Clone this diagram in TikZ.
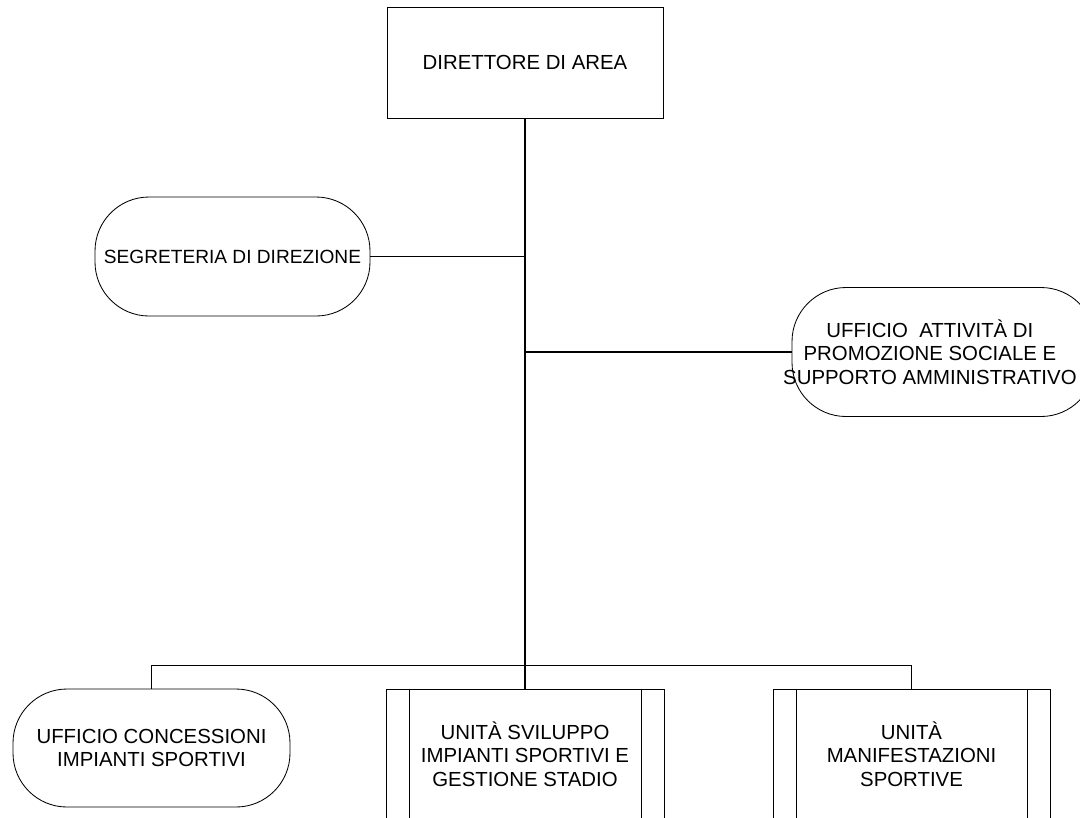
\documentclass[tikz,border=0pt]{standalone}
\usepackage{fontspec}
\setmainfont{Liberation Sans}
\begin{document}
\begin{tikzpicture}[node distance=4.85cm,thick]
        \tikzstyle{box} = [rectangle, draw, line width=0.6pt, align=center, inner sep=0pt, font=\fontsize{14.5pt}{16.7pt}\selectfont]
        \tikzstyle{office} = [box, rounded corners=1.35cm]
        \tikzstyle{unit} = [box, path picture={
            \draw[line width=0.6pt] ([xshift=0.575cm]path picture bounding box.north west) -- ([xshift=0.575cm]path picture bounding box.south west);
            \draw[line width=0.6pt] ([xshift=-0.575cm]path picture bounding box.north east) -- ([xshift=-0.575cm]path picture bounding box.south east);}]
        \tikzstyle{link} = [line width=1.1pt]

        \useasboundingbox (0,0) rectangle (27,-20.425);

        % Nodes
        \node[box, minimum width=6.9cm, minimum height=2.775cm] (direttore) at (13.125,-1.5625) {DIRETTORE DI AREA};
        \node[office, below of=direttore, xshift=-7.3125cm, minimum width=6.875cm, minimum height=2.975cm, font=\fontsize{13.6pt}{16.7pt}\selectfont] (segreteria) {SEGRETERIA DI DIREZIONE};
        \node[office, below of=direttore, xshift=10.4625cm, yshift=-2.3875cm, minimum width=7.575cm, minimum height=3.225cm,
              label={[xshift=-0.34cm, align=center, font=\fontsize{14.5pt}{16.7pt}\selectfont]center:UFFICIO\ \ ATTIVITÀ DI\\PROMOZIONE SOCIALE E\\SUPPORTO AMMINISTRATIVO}] (promozione) {};

        % Bottom row
        \node[office, below of=direttore, xshift=-9.3375cm, yshift=-12.2875cm, minimum width=6.925cm, minimum height=2.95cm] (concessioni) {UFFICIO CONCESSIONI\\IMPIANTI SPORTIVI};
        \node[unit, below of=direttore, yshift=-12.4375cm, minimum width=6.95cm, minimum height=3.25cm] (sviluppo) {UNITÀ SVILUPPO\\IMPIANTI SPORTIVI E\\GESTIONE STADIO};
        \node[unit, below of=direttore, xshift=9.6625cm, yshift=-12.4375cm, minimum width=6.925cm, minimum height=3.25cm] (manifestazioni) {UNITÀ\\MANIFESTAZIONI\\SPORTIVE};

        % Trunk
        \draw[link] (direttore.south) -- ++(0,-13.675) coordinate(bar);

        % Side offices
        \draw[link] (segreteria.east) -- (segreteria.east -| bar);
        \draw[link] (promozione.west) -- (promozione.west -| bar);

        % Branches to the bottom row
        \draw[link] (bar) -| (concessioni.north);
        \draw[link] (bar) -| (manifestazioni.north);
        \draw[link] (bar) -- (sviluppo.north);
    \end{tikzpicture}
\end{document}
